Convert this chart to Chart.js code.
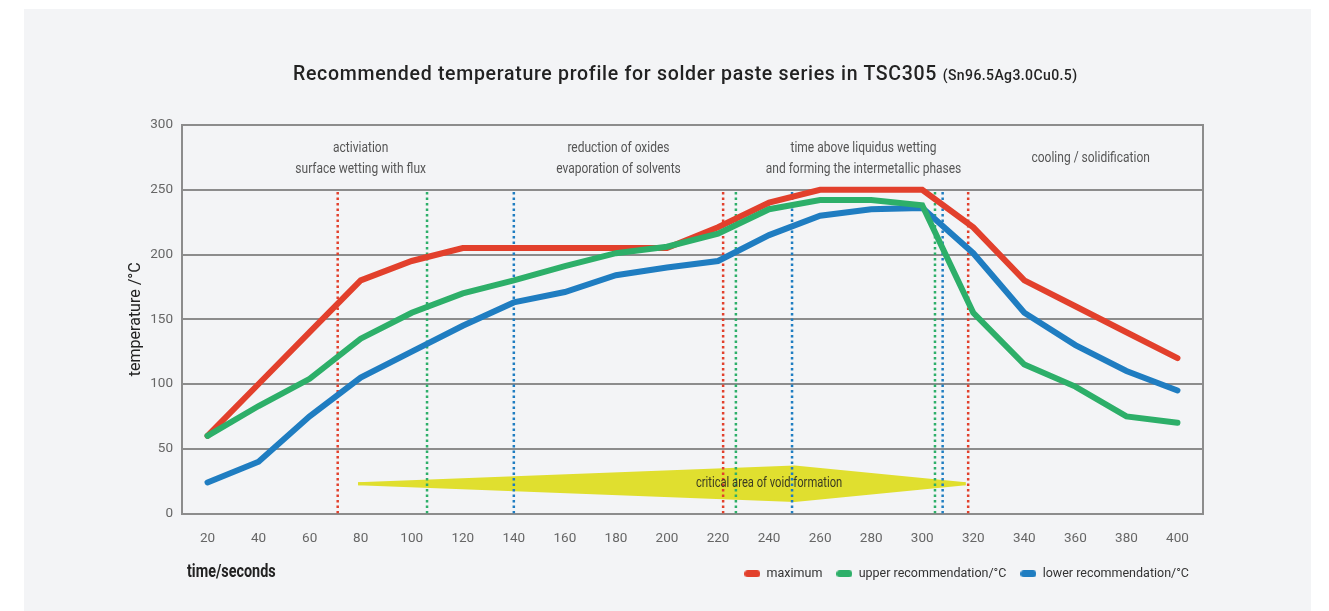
<!DOCTYPE html>
<html>
<head>
<meta charset="utf-8">
<title>Temperature profile TSC305</title>
<script src="https://cdn.jsdelivr.net/npm/chart.js@4.4.1/dist/chart.umd.min.js"></script>
<style>
  html, body { margin: 0; padding: 0; background: #fff; }
  body { width: 1329px; height: 611px; position: relative; overflow: hidden; }
  #panel { position: absolute; left: 24px; top: 9px; width: 1287px; height: 602px; background: #f3f4f6; }
  #chartBox { position: absolute; left: 0; top: 0; width: 1329px; height: 611px; }
  #title { position: absolute; left: 293px; top: 62px; white-space: nowrap;
           font-family: Roboto, 'Liberation Sans', sans-serif; font-weight: 500; font-size: 19.5px;
           letter-spacing: 0.7px; color: #222; }
  #title small { font-size: 14px; font-weight: 500; letter-spacing: 0.4px; }
  #xTitle { position: absolute; left: 187px; top: 560px; white-space: nowrap;
            font-family: Roboto, sans-serif; font-weight: bold; font-size: 18px; color: #222;
            transform: scaleX(0.8); transform-origin: left center; }
</style>
</head>
<body>
<div id="panel"></div>
<div id="chartBox"><canvas id="profileChart" width="1329" height="611"></canvas></div>
<div id="title">Recommended temperature profile for solder paste series in TSC305 <small>(Sn96.5Ag3.0Cu0.5)</small></div>
<div id="xTitle">time/seconds</div>
<script>
const FONT = "Roboto, 'Liberation Sans', sans-serif";

// time axis (seconds) and the three temperature curves (°C)
const times     = [20, 40, 60, 80, 100, 120, 140, 160, 180, 200, 220, 240, 260, 280, 300, 320, 340, 360, 380, 400];
const maxTemp   = [60, 100, 140, 180, 195, 205, 205, 205, 205, 205, 221, 240, 250, 250, 250, 221, 180, 160, 140, 120];
const upperTemp = [60, 83, 104, 135, 155, 170, 180, 191, 201, 206, 216, 235, 242, 242, 238, 155, 115, 98, 75, 70];
const lowerTemp = [24, 40, 75, 105, 125, 145, 163, 171, 184, 190, 195, 215, 230, 235, 236, 201, 155, 130, 110, 95];

const seriesNames = ['maximum', 'upper recommendation/°C', 'lower recommendation/°C'];

// phase boundaries (seconds) for each curve, drawn as dotted markers up to 250 °C
const maxMarks   = [71, 222, 318];
const upperMarks = [106, 227, 305];
const lowerMarks = [140, 249, 308];
const markTop = 250;

// phase captions in the header band
const phaseNames = [
  ['activiation', 'surface wetting with flux'],
  ['reduction of oxides', 'evaporation of solvents'],
  ['time above liquidus wetting', 'and forming the intermetallic phases'],
  ['cooling / solidification']
];
const phaseCenters = [80, 181, 277, 366];
const phaseLabelTemp = 274;

// void formation band: start, widest point, end (s) and centre / half thickness (°C)
const voidTimes = [79, 250, 317];
const voidCenter = 23;
const voidHalf = 13;
const voidLabel = 'critical area of void formation';
const voidLabelTime = 240;

const yTicks = [0, 50, 100, 150, 200, 250, 300];

const RED = '#e2402c', GREEN = '#2daf69', BLUE = '#1f7dc1', YELLOW = '#e0df2f', GRID = '#8c8c8c';
const NARROW = 0.8; // horizontal squeeze for the condensed captions

const pts = (xs, ys) => xs.map((x, i) => ({ x: x, y: ys[i] }));

// small rounded bar used as legend marker
function pill(color) {
  const c = document.createElement('canvas');
  c.width = 16; c.height = 7;
  const g = c.getContext('2d');
  g.fillStyle = color;
  g.beginPath();
  g.roundRect(0, 0, 16, 7, 3.5);
  g.fill();
  return c;
}

function curve(label, ys, color, order) {
  return {
    label: label, data: pts(times, ys), borderColor: color, backgroundColor: color,
    borderWidth: 6, borderCapStyle: 'round', pointRadius: 0, pointStyle: pill(color), order: order
  };
}

function marks(xs, color) {
  return xs.map(v => ({
    label: '', data: [{ x: v, y: 0 }, { x: v, y: markTop }], borderColor: color,
    borderWidth: 2.5, borderDash: [2.5, 3], pointRadius: 0, order: 10
  }));
}

const datasets = [
  curve(seriesNames[0], maxTemp, RED, 3),
  curve(seriesNames[1], upperTemp, GREEN, 1),
  curve(seriesNames[2], lowerTemp, BLUE, 2),
  ...marks(maxMarks, RED),
  ...marks(upperMarks, GREEN),
  ...marks(lowerMarks, BLUE)
];
// upper and lower edge of the yellow band, filled between each other
datasets.push({
  label: '', data: pts(voidTimes, [voidCenter, voidCenter + voidHalf, voidCenter]),
  borderColor: YELLOW, backgroundColor: YELLOW, borderWidth: 3, borderJoinStyle: 'round',
  pointRadius: 0, fill: '+1', order: 20
});
datasets.push({
  label: '', data: pts(voidTimes, [voidCenter, voidCenter - voidHalf, voidCenter]),
  borderColor: YELLOW, backgroundColor: YELLOW, borderWidth: 3, borderJoinStyle: 'round',
  pointRadius: 0, fill: false, order: 20
});

function narrowText(ctx, text, x, y) {
  ctx.save();
  ctx.translate(x, y);
  ctx.scale(NARROW, 1);
  ctx.fillText(text, 0, 0);
  ctx.restore();
}

const captions = {
  id: 'captions',
  afterDatasetsDraw(chart) {
    const { ctx, scales: { x, y } } = chart;
    ctx.save();
    ctx.textAlign = 'center';
    ctx.textBaseline = 'middle';
    ctx.font = '15px ' + FONT;
    ctx.fillStyle = '#555';
    phaseNames.forEach((lines, i) => {
      const px = x.getPixelForValue(phaseCenters[i]);
      const py = y.getPixelForValue(phaseLabelTemp);
      lines.forEach((t, j) => narrowText(ctx, t, px, py + (j - (lines.length - 1) / 2) * 21));
    });
    ctx.font = '14px ' + FONT;
    ctx.fillStyle = '#3b3b22';
    narrowText(ctx, voidLabel, x.getPixelForValue(voidLabelTime), y.getPixelForValue(voidCenter));
    ctx.restore();
  }
};

new Chart(document.getElementById('profileChart'), {
  type: 'line',
  data: { datasets: datasets },
  options: {
    responsive: false,
    animation: false,
    layout: { padding: { left: 0, right: 126, top: 125, bottom: 21 } },
    plugins: {
      tooltip: { enabled: false },
      legend: {
        position: 'bottom',
        align: 'end',
        labels: {
          usePointStyle: true,
          pointStyleWidth: 16,
          color: '#333',
          font: { family: FONT, size: 12.5 },
          padding: 14,
          filter: item => item.datasetIndex < 3,
          sort: (a, b) => a.datasetIndex - b.datasetIndex
        }
      }
    },
    scales: {
      x: {
        type: 'linear', min: 10, max: 410,
        afterBuildTicks: s => { s.ticks = times.map(v => ({ value: v })); },
        afterFit: s => { s.height = 40; },
        grid: { display: false },
        border: { display: true, color: GRID, width: 2 },
        ticks: { color: '#666', font: { family: FONT, size: 13.5 }, padding: 9, maxRotation: 0 }
      },
      y: {
        min: 0, max: 300,
        afterBuildTicks: s => { s.ticks = yTicks.map(v => ({ value: v })); },
        afterFit: s => { s.width = 182; },
        grid: { color: GRID, lineWidth: 2, drawTicks: false },
        border: { display: true, color: GRID, width: 2 },
        ticks: { color: '#666', font: { family: FONT, size: 13.5 }, padding: 9 },
        title: {
          display: true, text: 'temperature /°C', color: '#222',
          font: { family: FONT, size: 16 }, padding: { top: 126, bottom: 0 }
        }
      },
      y2: {
        position: 'right', min: 0, max: 300,
        afterFit: s => { s.width = 0; },
        ticks: { display: false },
        grid: { display: false },
        border: { display: true, color: GRID, width: 2 }
      }
    }
  },
  plugins: [captions]
});
</script>
</body>
</html>
